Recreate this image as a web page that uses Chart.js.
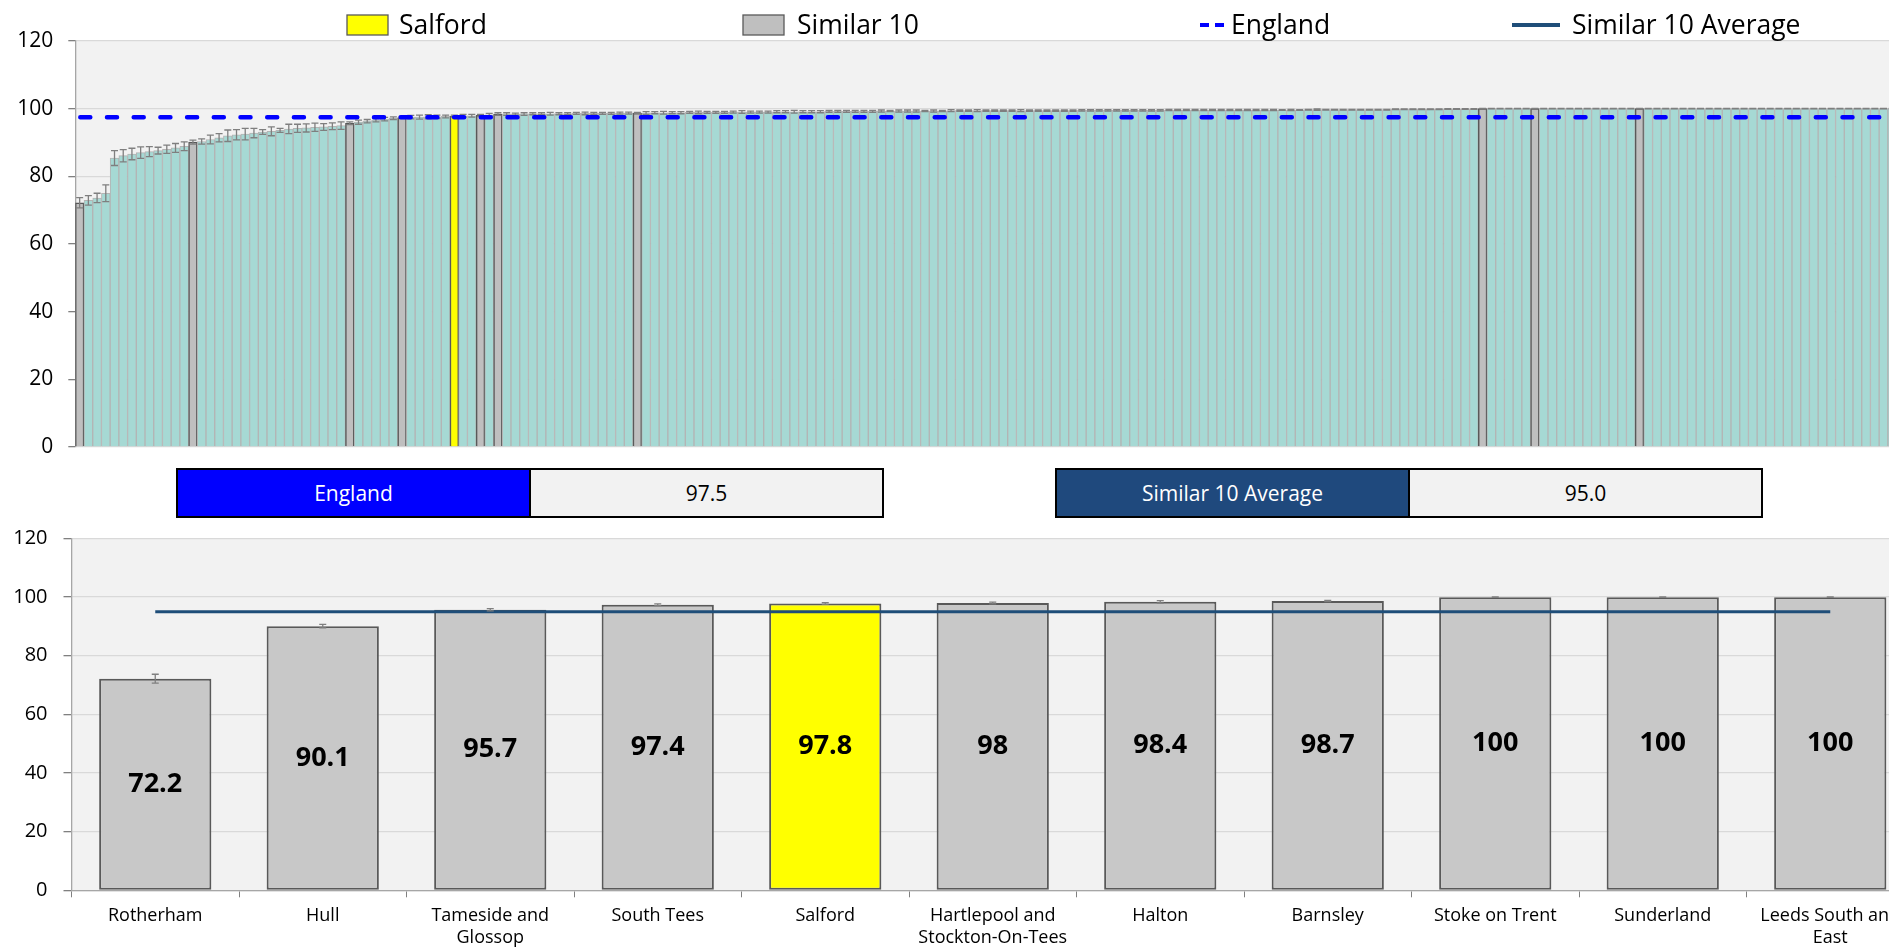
<!DOCTYPE html>
<html>
<head>
<meta charset="utf-8">
<script src="https://cdn.jsdelivr.net/npm/chart.js@4.4.1/dist/chart.umd.min.js"></script>
<style>
  html, body { margin: 0; padding: 0; background: #ffffff; overflow: hidden; }
  #wrap { position: relative; width: 1889px; height: 950px; overflow: hidden; font-family: 'Open Sans', sans-serif; }
  #topChart { position: absolute; left: 0; top: 0; }
  #bottomChart { position: absolute; left: 0; top: 525px; }
  .info { position: absolute; top: 468px; height: 46px; display: flex; border: 2px solid #000; }
  .info div { width: 351px; display: flex; align-items: center; justify-content: center; font-size: 21px; }
  .info .lab { color: #fff; border-right: 2px solid #000; }
  .info .val { background: #f2f2f2; color: #000; }
</style>
</head>
<body>
<div id="wrap">
  <canvas id="topChart" width="1930" height="460"></canvas>
  <div class="info" style="left:176px;"><div class="lab" id="engLab" style="background:#0000ff;"></div><div class="val" id="engVal"></div></div>
  <div class="info" style="left:1055px;"><div class="lab" id="avgLab" style="background:#1f497d;"></div><div class="val" id="avgVal"></div></div>
  <canvas id="bottomChart" width="1930" height="425"></canvas>
</div>
<script>
// ---------------- DATA ----------------
// All CCG values, sorted ascending (211 bars)
const topValues = [
  72.2, 72.9, 73.6, 75.0,
  85.4, 86.1, 86.6, 87.0, 87.3, 87.6, 88.0, 88.4, 88.9,
  90.1,
  90.3, 90.9, 91.4, 92.0, 92.3, 92.5, 92.8, 93.1, 93.3, 93.6, 94.0, 94.2, 94.3, 94.5, 94.6, 94.8, 95.0,
  95.7,
  96.0, 96.3, 96.6, 96.9, 97.2,
  97.4,
  97.5, 97.5, 97.6, 97.6, 97.7,
  97.8,
  97.9, 97.9,
  98.0,
  98.2,
  98.4,
  98.4, 98.4, 98.4, 98.5, 98.5, 98.5, 98.5, 98.5, 98.6, 98.6, 98.6, 98.6, 98.6, 98.7, 98.7,
  98.7,
  98.7, 98.8, 98.8, 98.8, 98.8, 98.9, 98.9, 98.9, 98.9, 98.9,
  99.0, 99.0, 99.0, 99.0, 99.0, 99.1, 99.1, 99.1, 99.1, 99.1, 99.1, 99.2, 99.2, 99.2, 99.2,
  99.2, 99.2, 99.3, 99.3, 99.3, 99.3, 99.3, 99.3, 99.3, 99.3, 99.4, 99.4, 99.4, 99.4, 99.4, 99.4, 99.4, 99.4, 99.4, 99.4,
  99.4, 99.4, 99.4, 99.4, 99.4, 99.5, 99.5, 99.5, 99.5, 99.5, 99.5, 99.5, 99.5, 99.5, 99.5, 99.6, 99.6, 99.6, 99.6, 99.6, 99.6, 99.6, 99.6, 99.6, 99.6, 99.6,
  99.6, 99.6, 99.6, 99.6, 99.6, 99.7, 99.7, 99.7, 99.7, 99.7, 99.7, 99.7, 99.7, 99.7, 99.7, 99.8, 99.8, 99.8, 99.8, 99.8, 99.8, 99.9, 99.9, 99.9, 99.9,
  100, 100, 100, 100, 100, 100, 100, 100, 100, 100,
  100, 100, 100, 100, 100, 100, 100, 100, 100, 100,
  100, 100, 100, 100, 100, 100, 100, 100, 100, 100,
  100, 100, 100, 100, 100, 100, 100, 100, 100, 100,
  100, 100, 100, 100, 100, 100, 100, 100, 100, 100
];
// 95% CI half-widths for each bar above
const topCI = [
  1.5, 1.4, 1.4, 2.5,
  2.2, 1.8, 1.7, 1.7, 1.5, 1.0, 1.2, 1.3, 1.3,
  0.6,
  0.8, 1.3, 1.2, 1.7, 1.5, 1.7, 1.4, 0.7, 1.3, 0.6, 1.4, 1.2, 1.2, 1.2, 1.0, 1.0, 1.1,
  0.4,
  0.6, 0.5, 0.5, 0.5, 0.4,
  0.3,
  0.5, 0.6, 0.6, 0.5, 0.4,
  0.3,
  0.4, 0.4,
  0.3,
  0.4,
  0.4,
  0.4, 0.3, 0.4, 0.3, 0.3, 0.4, 0.3, 0.3, 0.3, 0.4, 0.3, 0.3, 0.3, 0.3, 0.3,
  0.2,
  0.4, 0.3, 0.4, 0.3, 0.3, 0.3, 0.4, 0.3, 0.3, 0.3,
  0.3, 0.4, 0.3, 0.3, 0.3, 0.3, 0.3, 0.4, 0.3, 0.3, 0.3, 0.3, 0.3, 0.3, 0.3,
  0.3, 0.3, 0.3, 0.2, 0.3, 0.3, 0.3, 0.2, 0.3, 0.2, 0.3, 0.2, 0.2, 0.3, 0.2, 0.2, 0.2, 0.2, 0.3, 0.2,
  0.2, 0.2, 0.2, 0.2, 0.2, 0.2, 0.2, 0.2, 0.2, 0.2, 0.2, 0.2, 0.2, 0.2, 0.2, 0.2, 0.2, 0.2, 0.2, 0.2, 0.2, 0.2, 0.2, 0.2, 0.2, 0.2,
  0.2, 0.2, 0.1, 0.2, 0.1, 0.1, 0.2, 0.1, 0.1, 0.1, 0.1, 0.1, 0.1, 0.1, 0.1, 0.1, 0.1, 0.1, 0.1, 0.1, 0.1, 0.1, 0.1, 0.1, 0.1,
  0.05, 0.05, 0.05, 0.05, 0.05, 0.05, 0.05, 0.05, 0.05, 0.05,
  0.05, 0.05, 0.05, 0.05, 0.05, 0.05, 0.05, 0.05, 0.05, 0.05,
  0.05, 0.05, 0.05, 0.05, 0.05, 0.05, 0.05, 0.05, 0.05, 0.05,
  0.05, 0.05, 0.05, 0.05, 0.05, 0.05, 0.05, 0.05, 0.05, 0.05,
  0.05, 0.05, 0.05, 0.05, 0.05, 0.05, 0.05, 0.05, 0.05, 0.05
];
// positions (in sorted order) of the similar-10 CCGs and Salford
const similarIdx = [0, 13, 31, 37, 46, 48, 64, 161, 167, 179];
const salfordIdx = 43;

// Comparison group
const similarNames = [
  'Rotherham', 'Hull', ['Tameside and', 'Glossop'], 'South Tees', 'Salford',
  ['Hartlepool and', 'Stockton-On-Tees'], 'Halton', 'Barnsley', 'Stoke on Trent',
  'Sunderland', ['Leeds South and', 'East']
];
const similarValues = [72.2, 90.1, 95.7, 97.4, 97.8, 98, 98.4, 98.7, 100, 100, 100];
const similarCI = [1.5, 0.6, 0.4, 0.3, 0.3, 0.3, 0.4, 0.2, 0.05, 0.05, 0.05];
const highlightName = 'Salford';

const englandValue = 97.5;
const similarAverage = 95.0;
const yTicks = [0, 20, 40, 60, 80, 100, 120];

// ---------------- STYLE ----------------
const FONT = "'Open Sans', 'Noto Sans', sans-serif";
const TEAL = '#a6d9d4', TEAL_BORDER = '#b4b4b4';
const GREY = '#bfbfbf', DARK_BORDER = '#595959';
const YELLOW = '#ffff00';
const ENG_BLUE = '#0000ff', AVG_BLUE = '#1f4e79';

document.getElementById('engLab').textContent = 'England';
document.getElementById('engVal').textContent = englandValue.toFixed(1);
document.getElementById('avgLab').textContent = 'Similar 10 Average';
document.getElementById('avgVal').textContent = similarAverage.toFixed(1);

const topLabels = topValues.map((_, i) => 'CCG ' + (i + 1));
const topColors = topValues.map((_, i) => i === salfordIdx ? YELLOW : (similarIdx.includes(i) ? GREY : TEAL));
const topBorders = topValues.map((_, i) => (i === salfordIdx || similarIdx.includes(i)) ? DARK_BORDER : TEAL_BORDER);
const topBorderW = topValues.map((_, i) => (i === salfordIdx || similarIdx.includes(i)) ? 1.5 : 1);

const plotBg = {
  id: 'plotBg',
  beforeDraw(chart) {
    const { ctx, chartArea: a } = chart;
    ctx.save();
    ctx.fillStyle = '#f2f2f2';
    ctx.fillRect(a.left, a.top, a.right - a.left, a.bottom - a.top);
    ctx.restore();
  }
};

function errorBars(ciArr, datasetIndex) {
  return {
    id: 'errorBars' + datasetIndex,
    afterDatasetsDraw(chart) {
      const { ctx } = chart;
      const meta = chart.getDatasetMeta(datasetIndex);
      const ys = chart.scales.y;
      const vals = chart.data.datasets[datasetIndex].data;
      ctx.save();
      ctx.strokeStyle = '#7f7f7f';
      ctx.lineWidth = 1.3;
      meta.data.forEach((bar, i) => {
        const v = vals[i], c = ciArr[i];
        const y1 = ys.getPixelForValue(v + c), y2 = ys.getPixelForValue(v - c);
        const x = bar.x, cw = 3.5;
        ctx.beginPath();
        ctx.moveTo(x, y1); ctx.lineTo(x, y2);
        ctx.moveTo(x - cw, y1); ctx.lineTo(x + cw, y1);
        ctx.moveTo(x - cw, y2); ctx.lineTo(x + cw, y2);
        ctx.stroke();
      });
      ctx.restore();
    }
  };
}

const englandLine = {
  id: 'englandLine',
  afterDatasetsDraw(chart) {
    const { ctx, chartArea: a } = chart;
    const y = chart.scales.y.getPixelForValue(englandValue);
    ctx.save();
    ctx.strokeStyle = ENG_BLUE;
    ctx.lineWidth = 4.5;
    ctx.lineCap = 'round';
    ctx.setLineDash([10, 16.7]);
    ctx.beginPath();
    ctx.moveTo(a.left + 5, y);
    ctx.lineTo(a.right, y);
    ctx.stroke();
    ctx.restore();
  }
};

const legendItems = [
  { kind: 'box', fill: YELLOW, text: 'Salford', x: 347, tx: 399 },
  { kind: 'box', fill: GREY, text: 'Similar 10', x: 743, tx: 797 },
  { kind: 'dash', color: ENG_BLUE, text: 'England', x: 1200, tx: 1231 },
  { kind: 'line', color: AVG_BLUE, text: 'Similar 10 Average', x: 1512, tx: 1572 }
];
const customLegend = {
  id: 'customLegend',
  afterDraw(chart) {
    const ctx = chart.ctx;
    const cy = 25;
    ctx.save();
    ctx.font = '26.5px ' + FONT;
    ctx.textBaseline = 'middle';
    ctx.fillStyle = '#000';
    legendItems.forEach(it => {
      if (it.kind === 'box') {
        ctx.fillStyle = it.fill;
        ctx.fillRect(it.x, cy - 10, 41, 20);
        ctx.strokeStyle = DARK_BORDER; ctx.lineWidth = 1.3;
        ctx.strokeRect(it.x, cy - 10, 41, 20);
      } else if (it.kind === 'dash') {
        ctx.strokeStyle = it.color; ctx.lineWidth = 4; ctx.lineCap = 'butt';
        ctx.beginPath();
        ctx.moveTo(it.x, cy); ctx.lineTo(it.x + 9, cy);
        ctx.moveTo(it.x + 15, cy); ctx.lineTo(it.x + 24, cy);
        ctx.stroke();
      } else {
        ctx.strokeStyle = it.color; ctx.lineWidth = 4; ctx.lineCap = 'butt';
        ctx.beginPath(); ctx.moveTo(it.x, cy); ctx.lineTo(it.x + 48, cy); ctx.stroke();
      }
      ctx.fillStyle = '#000';
      ctx.fillText(it.text, it.tx, cy + 1);
    });
    ctx.restore();
  }
};

new Chart(document.getElementById('topChart'), {
  type: 'bar',
  data: {
    labels: topLabels,
    datasets: [{
      data: topValues,
      backgroundColor: topColors,
      borderColor: topBorders,
      borderWidth: topBorderW,
      borderSkipped: 'bottom',
      barPercentage: 1,
      categoryPercentage: 1
    }]
  },
  options: {
    responsive: false,
    animation: false,
    devicePixelRatio: 1,
    layout: { padding: { top: 41, right: 16, bottom: 13, left: 0 } },
    plugins: { legend: { display: false }, tooltip: { enabled: false } },
    scales: {
      x: { display: false },
      y: {
        min: 0, max: 120,
        afterBuildTicks: s => { s.ticks = yTicks.map(v => ({ value: v })); },
        afterFit: s => { s.width = 75.3; s.paddingTop = 0; s.paddingBottom = 0; },
        ticks: { color: '#000', padding: 15, font: { family: FONT, size: 21 } },
        grid: { color: '#d9d9d9', lineWidth: 1.3, tickColor: '#808080', tickLength: 7 },
        border: { color: '#a6a6a6', width: 1.3 }
      }
    }
  },
  plugins: [plotBg, errorBars(topCI, 0), englandLine, customLegend]
});

const dataLabels = {
  id: 'dataLabels',
  afterDatasetsDraw(chart) {
    const { ctx } = chart;
    const meta = chart.getDatasetMeta(0);
    ctx.save();
    ctx.font = 'bold 27px ' + FONT;
    ctx.fillStyle = '#000';
    ctx.textAlign = 'center';
    ctx.textBaseline = 'middle';
    meta.data.forEach((bar, i) => {
      ctx.fillText(String(similarValues[i]), bar.x, (bar.y + bar.base) / 2);
    });
    ctx.restore();
  }
};

const nameKey = n => Array.isArray(n) ? n.join(' ') : n;
new Chart(document.getElementById('bottomChart'), {
  type: 'bar',
  data: {
    labels: similarNames,
    datasets: [{
      type: 'bar',
      order: 1,
      data: similarValues,
      backgroundColor: similarNames.map(n => nameKey(n) === highlightName ? YELLOW : '#c8c8c8'),
      borderColor: DARK_BORDER,
      borderWidth: 2,
      borderSkipped: false,
      barPercentage: 0.67,
      categoryPercentage: 1
    }, {
      type: 'line',
      order: 0,
      data: [
        { x: similarNames[0], y: similarAverage },
        { x: similarNames[similarNames.length - 1], y: similarAverage }
      ],
      borderColor: AVG_BLUE,
      borderWidth: 3,
      pointRadius: 0,
      fill: false
    }]
  },
  options: {
    responsive: false,
    animation: false,
    devicePixelRatio: 1,
    layout: { padding: { top: 13.5, right: 16, bottom: 0, left: 0 } },
    plugins: { legend: { display: false }, tooltip: { enabled: false } },
    scales: {
      x: {
        afterFit: s => { s.height = 59.7; },
        ticks: { color: '#000', padding: 8, maxRotation: 0, autoSkip: false, font: { family: FONT, size: 18 } },
        grid: { offset: true, drawOnChartArea: false, tickColor: '#808080', tickLength: 7 },
        border: { color: '#a6a6a6', width: 1.3 }
      },
      y: {
        min: 0, max: 120,
        afterBuildTicks: s => { s.ticks = yTicks.map(v => ({ value: v })); },
        afterFit: s => { s.width = 71.5; s.paddingTop = 0; s.paddingBottom = 0; },
        ticks: { color: '#000', padding: 16, font: { family: FONT, size: 20 } },
        grid: { color: '#d9d9d9', lineWidth: 1.3, tickColor: '#808080', tickLength: 8 },
        border: { color: '#a6a6a6', width: 1.3 }
      }
    }
  },
  plugins: [plotBg, errorBars(similarCI, 0), dataLabels]
});
</script>
</body>
</html>
